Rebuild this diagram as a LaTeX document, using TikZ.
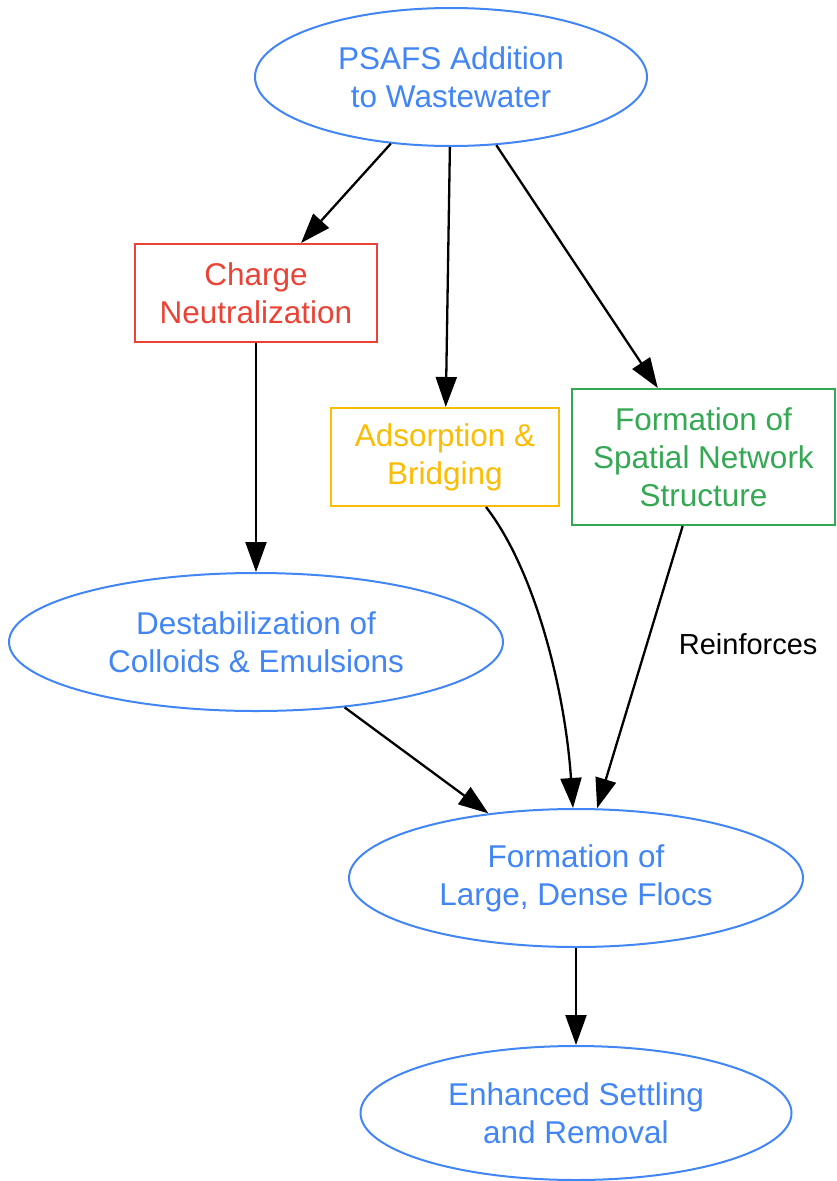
\documentclass[tikz,border=0pt]{standalone}
\usepackage{fontspec}
\setmainfont{Liberation Sans}
\usetikzlibrary{shapes.geometric,arrows.meta}
\definecolor{gblue}{HTML}{4285F4}
\definecolor{gred}{HTML}{EA4335}
\definecolor{gyellow}{HTML}{FBBC04}
\definecolor{ggreen}{HTML}{34A853}
\begin{document}
\begin{tikzpicture}[x=1pt,y=-1pt,
  lbl/.style={align=center,inner sep=0pt,font=\fontsize{31.5}{38}\selectfont},
  oval/.style={lbl,ellipse,draw=gblue,text=gblue,line width=2pt},
  box/.style={lbl,rectangle,draw=#1,text=#1,line width=2pt},
  link/.style={line width=2.3pt,-{Triangle[length=30pt,width=21pt]}}]
\useasboundingbox (0,0) rectangle (836,1181);

\node [oval,minimum width=392,minimum height=138] (psafs) at (451,77) {PSAFS Addition\\to Wastewater};
\node [box=gred,minimum width=242,minimum height=98] (charge) at (256,293) {Charge\\Neutralization};
\node [box=gyellow,minimum width=228,minimum height=98] (adsorb) at (445,457) {Adsorption \&\\Bridging};
\node [box=ggreen,minimum width=263,minimum height=136] (network) at (703.5,457) {Formation of\\Spatial Network\\Structure};
\node [oval,minimum width=494,minimum height=138] (destab) at (256,642) {Destabilization of\\Colloids \& Emulsions};
\node [oval,minimum width=454,minimum height=138] (flocs) at (576,878) {Formation of\\Large, Dense Flocs};
\node [oval,minimum width=431,minimum height=134] (settle) at (576,1113) {Enhanced Settling\\and Removal};

\draw [link] (psafs) -- (charge);
\draw [link] (psafs) -- (adsorb);
\draw [link] (psafs) -- (network);
\draw [link] (charge) -- (destab);
\draw [link] ([xshift=41pt]adsorb.south) .. controls (535,570) and (565,690) .. ([xshift=-3pt]flocs.north);
\draw [link] (network) -- (flocs) node [pos=0.42,right=31pt,inner sep=0pt,font=\fontsize{29}{34}\selectfont] (reinf) {Reinforces};
\draw [link] (destab) -- (flocs);
\draw [link] (flocs) -- (settle);
\end{tikzpicture}
\end{document}
